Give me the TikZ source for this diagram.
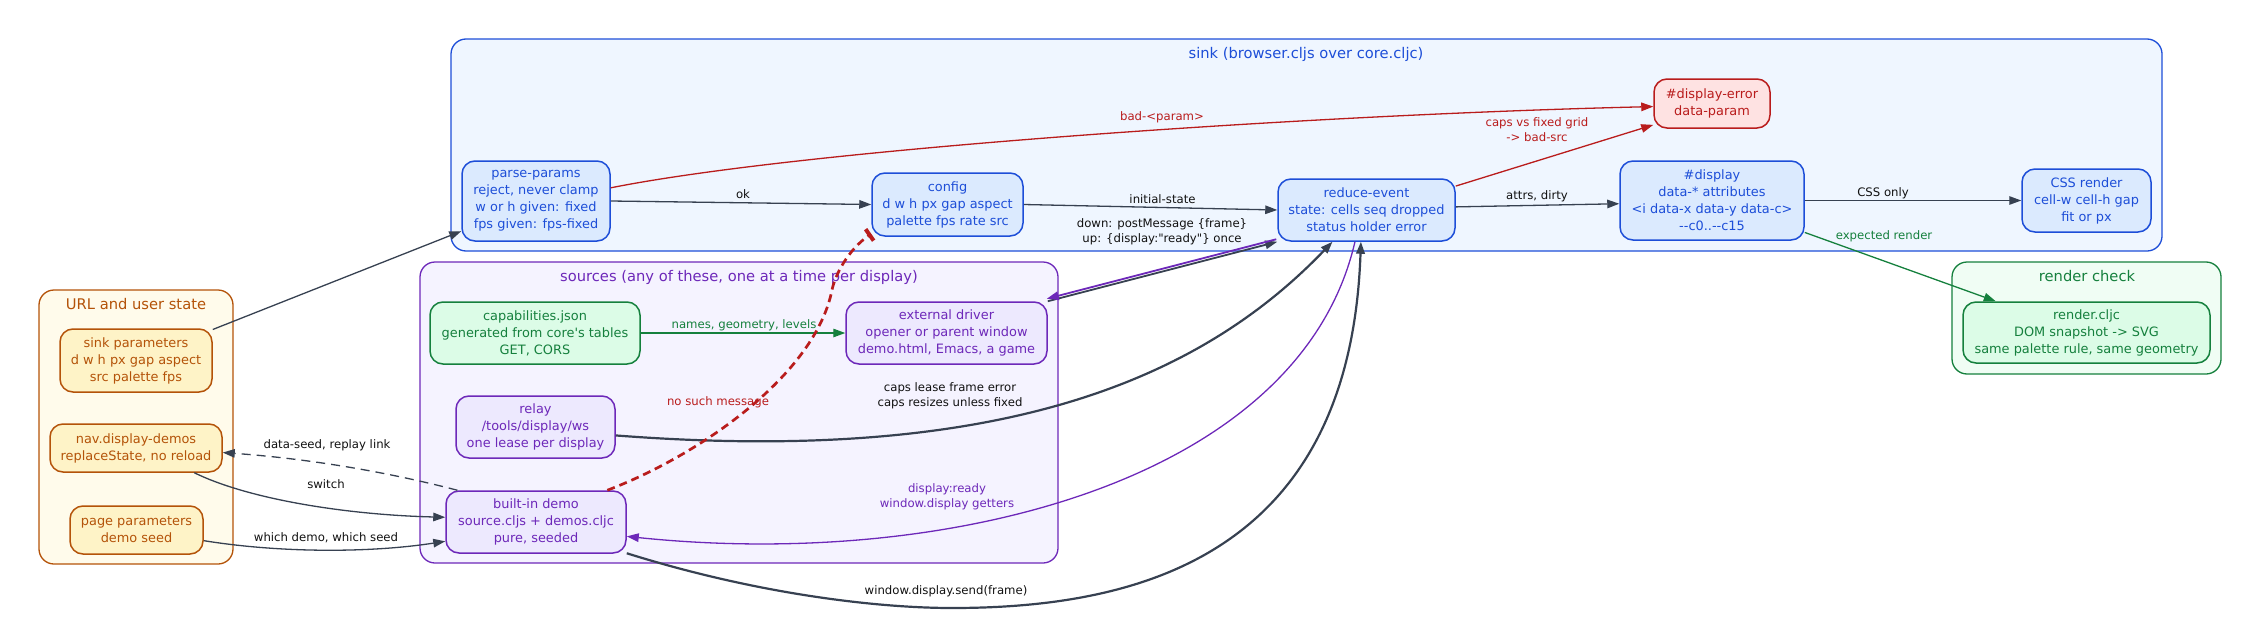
\documentclass[tikz,border=0pt]{standalone}
\usepackage{fontspec}
\setmainfont{DejaVu Sans}[Ligatures=TeXOff]
\usetikzlibrary{arrows.meta}
\definecolor{edgec}{HTML}{374151}
\definecolor{labc}{HTML}{111111}
\definecolor{blu}{HTML}{1D4ED8}
\definecolor{bluf}{HTML}{DBEAFE}
\definecolor{bluc}{HTML}{EFF6FF}
\definecolor{redc}{HTML}{B91C1C}
\definecolor{redf}{HTML}{FEE2E2}
\definecolor{pur}{HTML}{6D28B9}
\definecolor{purf}{HTML}{EDE9FE}
\definecolor{purc}{HTML}{F5F3FF}
\definecolor{grn}{HTML}{15803D}
\definecolor{grnf}{HTML}{DCFCE7}
\definecolor{grnc}{HTML}{F0FDF4}
\definecolor{org}{HTML}{B45309}
\definecolor{orgf}{HTML}{FEF3C7}
\definecolor{orgc}{HTML}{FFFBEB}
\begin{document}
\begin{tikzpicture}[x=1pt,y=-1pt,
  clbox/.style={rounded corners=15pt, line width=1.3pt, inner sep=0pt},
  cllab/.style={inner sep=0pt, font=\fontsize{14.7pt}{18pt}\selectfont},
  nbox/.style={rounded corners=13pt, line width=1.5pt, inner sep=0pt, align=center,
    font=\fontsize{12.9pt}{17pt}\selectfont},
  blubox/.style={nbox, draw=blu, fill=bluf, text=blu},
  redbox/.style={nbox, draw=redc, fill=redf, text=redc},
  purbox/.style={nbox, draw=pur, fill=purf, text=pur},
  grnbox/.style={nbox, draw=grn, fill=grnf, text=grn},
  orgbox/.style={nbox, draw=org, fill=orgf, text=org},
  elab/.style={inner sep=0pt, align=center, text=labc, font=\fontsize{11.7pt}{15pt}\selectfont},
  tip/.style={-{Triangle[length=12pt,width=8.5pt]}},
  edg/.style={tip, draw=edgec, line width=1.3pt},
  thk/.style={tip, draw=edgec, line width=2.2pt},
  rededge/.style={tip, draw=redc, line width=1.3pt},
  grnedge/.style={tip, draw=grn, line width=1.3pt},
]
\useasboundingbox (0,0) rectangle (2261,637);

% clusters
\node[clbox, draw=blu, fill=bluc, minimum width=1711pt, minimum height=212pt] (sinkc) at (1306.5,145) {};
\node[cllab, text=blu] (sinkl) at (1306,54) {sink (browser.cljs over core.cljc)};
\node[clbox, draw=pur, fill=purc, minimum width=638pt, minimum height=301pt] (srcc) at (739,412.5) {};
\node[cllab, text=pur] (srcl) at (739,277) {sources (any of these, one at a time per display)};
\node[clbox, draw=org, fill=orgc, minimum width=194pt, minimum height=274pt] (urlc) at (136,427) {};
\node[cllab, text=org] (urll) at (136,304) {URL and user state};
\node[clbox, draw=grn, fill=grnc, minimum width=269pt, minimum height=112pt] (rcc) at (2086.5,318) {};
\node[cllab, text=grn] (rcl) at (2087,276) {render check};

% nodes
\node[orgbox, minimum width=152pt, minimum height=63pt] (sinkp) at (136,360.5) {sink parameters\\d w h px gap aspect\\src palette fps};
\node[orgbox, minimum width=172pt, minimum height=48pt] (nav) at (136,448) {nav.display-demos\\replaceState, no reload};
\node[orgbox, minimum width=133pt, minimum height=48pt] (page) at (136.5,530) {page parameters\\demo seed};

\node[blubox, minimum width=148pt, minimum height=80pt] (parse) at (536,201) {parse-params\\reject, never clamp\\w or h given: fixed\\fps given: fps-fixed};
\node[blubox, minimum width=151pt, minimum height=63pt] (config) at (947.5,204.5) {config\\d w h px gap aspect\\palette fps rate src};
\node[blubox, minimum width=177pt, minimum height=62pt] (reduce) at (1366.5,210) {reduce-event\\state: cells seq dropped\\status holder error};
\node[redbox, minimum width=116pt, minimum height=49pt] (err) at (1712,103.5) {\#display-error\\data-param};
\node[blubox, minimum width=184pt, minimum height=79pt] (disp) at (1712,200.5) {\#display\\data-* attributes\\<i data-x data-y data-c>\\--c0..--c15};
\node[blubox, minimum width=129pt, minimum height=63pt] (css) at (2086.5,200.5) {CSS render\\cell-w cell-h gap\\fit or px};

\node[grnbox, minimum width=210pt, minimum height=62pt] (caps) at (535,333) {capabilities.json\\generated from core's tables\\GET, CORS};
\node[purbox, minimum width=201pt, minimum height=62pt] (driver) at (946.5,333) {external driver\\opener or parent window\\demo.html, Emacs, a game};
\node[purbox, minimum width=159pt, minimum height=62pt] (relay) at (535.5,427) {relay\\/tools/display/ws\\one lease per display};
\node[purbox, minimum width=180pt, minimum height=62pt] (demo) at (536,522) {built-in demo\\source.cljs + demos.cljc\\pure, seeded};

\node[grnbox, minimum width=247pt, minimum height=61pt] (render) at (2086.5,332.5) {render.cljc\\DOM snapshot -> SVG\\same palette rule, same geometry};

% edges
\draw[edg] (sinkp.22) -- (parse.202);
\draw[edg] (parse.east) -- (config.west);
\draw[rededge] (parse.10) .. controls (800,150) and (1300,115) .. (err.183);
\draw[edg] (config.east) -- (reduce.west);
\draw[rededge] (reduce.15) -- (err.200);
\draw[edg] (reduce.2) -- (disp.182);
\draw[edg] (disp.east) -- (css.west);
\draw[grnedge] (disp.-19) -- (render.161);
\draw[grnedge] (caps.east) -- (driver.west);
\draw[edg, line width=1.8pt] (driver.north east) -- (reduce.south west);
\draw[tip, draw=pur, line width=1.8pt] ([xshift=-1pt,yshift=2.5pt]reduce.south west) -- ([xshift=-1pt,yshift=2.5pt]driver.north east);
\draw[thk] (relay.-6) .. controls (1000,465) and (1200,380) .. (reduce.223);
\draw[tip, draw=pur, line width=1.3pt] (reduce.250) .. controls (1300,480) and (950,570) .. (demo.-9);
\draw[thk] (demo.-19) .. controls (760,595) and (880,608) .. (952,608) .. controls (1132,608) and (1350,560) .. (reduce.260);
\draw[-{Rectangle[length=4pt,width=14pt]}, draw=redc, line width=2.7pt, dash pattern=on 8pt off 5pt] (demo.24) .. controls (700,455) and (815,375) .. (832,290) .. controls (835,275) and (848,250) .. (config.201);
\draw[edg, dash pattern=on 9pt off 6pt] (demo.158) .. controls (380,470) and (300,458) .. (nav.-3);
\draw[edg] (nav.-23) .. controls (250,500) and (350,515) .. (demo.177);
\draw[edg] (page.-9) .. controls (280,553) and (370,553) .. (demo.192);

% edge labels
\node[elab] (l1) at (327,445) {data-seed, replay link};
\node[elab] (l2) at (326,484) {switch};
\node[elab] (l3) at (326,538) {which demo, which seed};
\node[elab] (l4) at (743,194) {ok};
\node[elab, text=redc] (l5) at (1162,117) {bad-<param>};
\node[elab] (l6) at (1162.5,199) {initial-state};
\node[elab] (l7) at (1162,231.5) {down: postMessage \{frame\}\\up: \{display:"ready"\} once};
\node[elab, text=redc] (l8) at (1537,129.5) {caps vs fixed grid\\-> bad-src};
\node[elab] (l9) at (1537,196) {attrs, dirty};
\node[elab] (l10) at (1883,193) {CSS only};
\node[elab, text=grn] (l11) at (1884,236) {expected render};
\node[elab, text=grn] (l12) at (744,325) {names, geometry, levels};
\node[elab, text=redc] (l13) at (718,402) {no such message};
\node[elab] (l14) at (950,395.5) {caps lease frame error\\caps resizes unless fixed};
\node[elab, text=pur] (l15) at (947,496.5) {display:ready\\window.display getters};
\node[elab] (l16) at (946,591) {window.display.send(frame)};
\end{tikzpicture}
\end{document}
